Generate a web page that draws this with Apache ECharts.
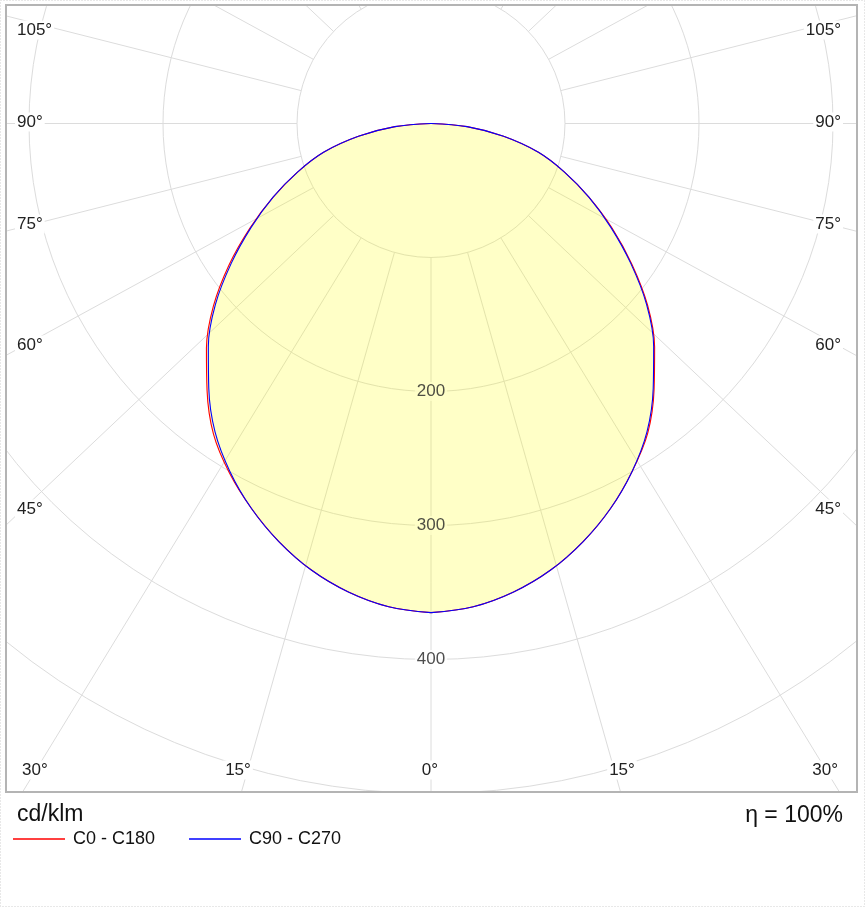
<!DOCTYPE html>
<html><head><meta charset="utf-8">
<script src="https://cdn.jsdelivr.net/npm/echarts@6/dist/echarts.min.js"></script>
<style>html,body{margin:0;padding:0;background:#fff}#c{width:865px;height:907px}</style>
</head><body><div id="c"></div>
<script>
// gamma angles (deg from nadir) and luminous intensity (cd/klm)
const gamma = [0,5,10,15,20,25,30,35,40,45,50,55,60,65,70,75,80,85,90];
const c0   = [365,362,355,345,332,317,300,282,259,236,211,183,156,130,106,83,55,27,0];
const c180 = [365,362,355,345,332,317,301,283,260,237,212,184,156,130,106,83,55,27,0];
const c90  = [365,362,355,345,332,317,300,281,258,235,210,182,155,130,106,83,55,27,0];
const c270 = [365,362,355,345,332,317,300,281,258,235,210,182,155,130,106,83,55,27,0];
const radiusLabels = [200, 300, 400];
const gridAngles = [-165,-150,-135,-120,-105,-90,-75,-60,-45,-30,-15,0,15,30,45,60,75,90,105,120,135,150,165];
const angleLabelsSide = [105, 90, 75, 60, 45, 30];
const angleLabelsBottom = [15, 0];
const seriesNames = ['C0 - C180', 'C90 - C270'];
const unitText = 'cd/klm';
const etaText = '\u03B7 = 100%';

const W = 865, H = 907;
const CX = 431, CY = 123.5, PX100 = 134;
const RMAX = 700, RINNER = 100;
const PL = 6, PT = 5, PR = 857, PB = 792;
const VSQ = 0.945; // vertical squeeze of the radial grid lines in the original drawing
// label placement (layout only)
const sideLabelY = {105: 30, 90: 122, 75: 224, 60: 345, 45: 509, 30: 770};
const leftLabelX = {105: 15, 90: 15, 75: 15, 60: 15, 45: 15, 30: 20};
const rightLabelX = {105: 843, 90: 843, 75: 843, 60: 843, 45: 843, 30: 840};
const bottomLabelDX = {15: 191, 0: -1};
const bottomLabelY = 770;

function half(vals, sign) {
  return gamma.map((g, i) => [vals[i], sign * g]);
}
const font = '"Liberation Sans", Arial, sans-serif';
const labelStyle = (txt, align) => ({text: txt, fill:'#222', font:'17px ' + font, align: align,
  verticalAlign:'middle', backgroundColor:'#fff', padding:[1,2]});

const graphics = [];
graphics.push({type:'rect', shape:{x:0,y:0,width:W,height:PT}, style:{fill:'#fff'}, z:50, silent:true});
graphics.push({type:'rect', shape:{x:0,y:0,width:PL,height:H}, style:{fill:'#fff'}, z:50, silent:true});
graphics.push({type:'rect', shape:{x:PR,y:0,width:W-PR,height:H}, style:{fill:'#fff'}, z:50, silent:true});
graphics.push({type:'rect', shape:{x:0,y:PB,width:W,height:H-PB}, style:{fill:'#fff'}, z:50, silent:true});
graphics.push({type:'rect', shape:{x:PL,y:PT,width:PR-PL,height:PB-PT}, style:{fill:'none', stroke:'#b4b4b4', lineWidth:2}, z:60, silent:true});
graphics.push({type:'rect', shape:{x:0.5,y:0.5,width:W-1,height:H-1}, style:{fill:'none', stroke:'#d0d0d0', lineWidth:1, lineDash:[1,2]}, z:60, silent:true});
angleLabelsSide.forEach(a => {
  graphics.push({type:'text', x: leftLabelX[a], y: sideLabelY[a], z:70, silent:true, style: labelStyle(a + '\u00B0', 'left')});
  graphics.push({type:'text', x: rightLabelX[a], y: sideLabelY[a], z:70, silent:true, style: labelStyle(a + '\u00B0', 'right')});
});
angleLabelsBottom.forEach(a => {
  const dx = bottomLabelDX[a];
  if (a === 0) {
    graphics.push({type:'text', x: CX + dx, y: bottomLabelY, z:70, silent:true, style: labelStyle('0\u00B0', 'center')});
  } else {
    graphics.push({type:'text', x: CX - dx - 2, y: bottomLabelY, z:70, silent:true, style: labelStyle(a + '\u00B0', 'center')});
    graphics.push({type:'text', x: CX + dx, y: bottomLabelY, z:70, silent:true, style: labelStyle(a + '\u00B0', 'center')});
  }
});
graphics.push({type:'text', x:17, y:815, z:70, style:{text:unitText, fill:'#111', font:'23px ' + font, align:'left', verticalAlign:'middle'}});
graphics.push({type:'text', x:843, y:816, z:70, style:{text:etaText, fill:'#111', font:'23px ' + font, align:'right', verticalAlign:'middle'}});

const gridColor = '#dcdcdc';
// radial grid line series (drawn angle reproduces the original's squeezed grid)
function drawnAngle(a) {
  const t = Math.abs(a) * Math.PI / 180;
  return Math.sign(a) * Math.atan2(Math.sin(t), Math.cos(t) * VSQ) * 180 / Math.PI;
}
const radialSeries = gridAngles.map(a => ({
  type:'line', coordinateSystem:'polar', polarIndex:0, symbol:'none', silent:true, z:1,
  data:[[RINNER, drawnAngle(a)], [RMAX, drawnAngle(a)]],
  lineStyle:{color:gridColor, width:1}, tooltip:{show:false}
}));

const SM = 0.35;
const curveSeries = [];
[[c180, -1], [c0, 1]].forEach(([v, s]) => {
  curveSeries.push({type:'line', name:'fill', coordinateSystem:'polar', polarIndex:0, data:half(v, s), symbol:'none', smooth:SM,
    lineStyle:{width:0, opacity:0}, areaStyle:{color:'rgba(255,255,0,0.22)', opacity:1}, z:3, silent:true});
});
[[c180, -1, 0], [c0, 1, 0], [c270, -1, 1], [c90, 1, 1]].forEach(([v, s, k]) => {
  const col = k === 0 ? '#ff0000' : '#0000ff';
  curveSeries.push({type:'line', name:seriesNames[k], coordinateSystem:'polar', polarIndex:0, data:half(v, s),
    symbol:'none', smooth:SM, color:col, lineStyle:{width:1.1, color:col}, z:4 + k, silent:true});
});

const chart = echarts.init(document.getElementById('c'), null, {renderer:'canvas'});
chart.setOption({
  animation: false,
  backgroundColor: '#fff',
  polar: {center:[CX, CY], radius: PX100 * RMAX / 100},
  angleAxis: {type:'value', min:-180, max:180, startAngle:90, clockwise:false,
     axisLine:{show:false}, axisTick:{show:false}, axisLabel:{show:false}, splitLine:{show:false}},
  radiusAxis: {type:'value', min:0, max:RMAX, interval:100,
     axisLine:{show:false}, axisTick:{show:false}, axisLabel:{show:false},
     splitLine:{show:true, lineStyle:{color:gridColor, width:1}}},
  legend: {
    data: seriesNames, left: 13, top: 830, padding: 0, z: 100, icon: 'rect', itemWidth: 52, itemHeight: 1.5,
    itemGap: 34, textStyle: {fontFamily: font, fontSize: 18, color: '#111', padding:[0,0,0,3]}, selectedMode: false
  },
  series: radialSeries.concat(curveSeries, [
    {type:'scatter', name:'rlabels', coordinateSystem:'polar', polarIndex:0, symbolSize:0,
     data: radiusLabels.map(v => [v, 0]), z:6, silent:true,
     label:{show:true, position:'inside', formatter: p => (p.value[0] < 380 ? '{y|' : '{w|') + p.value[0] + '}',
       rich:{
         y:{fontFamily:font, fontSize:17, color:'#222', backgroundColor:'#ffffc8', padding:[1,2]},
         w:{fontFamily:font, fontSize:17, color:'#222', backgroundColor:'#ffffff', padding:[1,2]}
       }}}
  ]),
  graphic: graphics
});
</script>
</body></html>
